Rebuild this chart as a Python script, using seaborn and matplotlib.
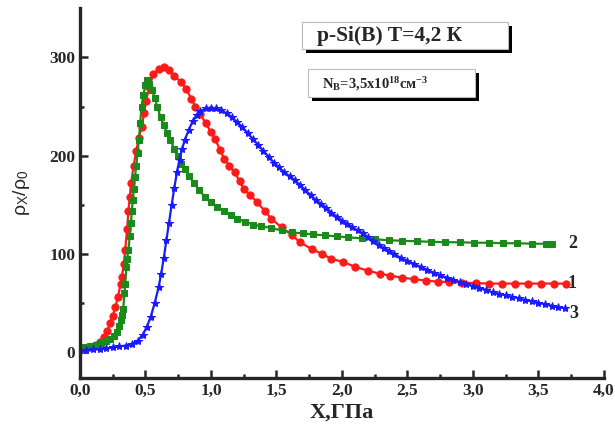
import matplotlib
matplotlib.use("Agg")
import matplotlib.pyplot as plt
import seaborn as sns
import pandas as pd
from matplotlib.patches import Rectangle

# curve 1 (red, circles)
x1 = [0.00, 0.04, 0.08, 0.12, 0.15, 0.18, 0.21, 0.23, 0.25, 0.27, 0.29, 0.31, 0.32, 0.335,
      0.345, 0.36, 0.37, 0.38, 0.39, 0.41, 0.43, 0.45, 0.47, 0.49, 0.505, 0.53, 0.56, 0.60,
      0.64, 0.68, 0.72, 0.77, 0.81, 0.85, 0.88, 0.92, 0.96, 1.00, 1.03, 1.07, 1.10, 1.14,
      1.18, 1.22, 1.25, 1.30, 1.35, 1.41, 1.46, 1.54, 1.62, 1.68, 1.77, 1.85, 1.92, 2.01,
      2.10, 2.20, 2.29, 2.37, 2.46, 2.55, 2.64, 2.73, 2.82, 2.92, 3.02, 3.12, 3.22, 3.32,
      3.42, 3.52, 3.62, 3.71]
y1 = [2, 3, 5, 8, 11, 16, 22, 30, 37, 46, 56, 70, 77, 90,
      104, 125, 144, 158, 172, 190, 205, 218, 229, 243, 256, 270, 283, 288,
      290, 287, 281, 275, 268, 258, 250, 242, 233, 224, 217, 206, 197, 190,
      183, 174, 166, 160, 153, 144, 136, 127, 119, 112, 105, 100, 95, 92,
      87, 83, 80, 78, 76, 74.5, 73, 72, 71.5, 71, 70.5, 70, 70, 70,
      70, 70, 70, 70]

# curve 2 (green, squares)
x2 = [0.00, 0.04, 0.08, 0.12, 0.16, 0.20, 0.23, 0.26, 0.28, 0.30, 0.31, 0.32, 0.33, 0.34,
      0.345, 0.355, 0.36, 0.37, 0.38, 0.39, 0.395, 0.405, 0.41, 0.42, 0.43, 0.44, 0.45, 0.46,
      0.47, 0.485, 0.50, 0.51, 0.53, 0.55, 0.57, 0.59, 0.615, 0.64, 0.665, 0.69, 0.72, 0.745,
      0.77, 0.80, 0.835, 0.87, 0.91, 0.955, 1.00, 1.05, 1.10, 1.15, 1.20, 1.26, 1.32, 1.38,
      1.46, 1.54, 1.62, 1.70, 1.78, 1.87, 1.96, 2.05, 2.15, 2.25, 2.36, 2.46, 2.57, 2.68,
      2.79, 2.90, 3.01, 3.12, 3.23, 3.34, 3.45, 3.56, 3.60]
y2 = [3, 5, 7, 8, 10, 12, 14, 17, 21, 27, 33, 38, 44, 60,
      70, 87, 95, 104, 118, 132, 144, 155, 166, 178, 190, 203, 216, 233,
      250, 262, 272, 277, 273, 267, 259, 250, 239, 231, 223, 216, 207, 200,
      192, 186, 179, 172, 165, 158, 153, 148, 144, 140, 136, 133, 130, 128.5,
      126.5, 124, 122, 121, 120, 119, 118, 117, 116, 115, 114, 113.5, 113, 112.5,
      112, 112, 111.5, 111.5, 111, 111, 110.5, 110.5, 110.5]

# curve 3 (blue, stars)
x3 = [0.00, 0.05, 0.10, 0.15, 0.20, 0.25, 0.30, 0.35, 0.40, 0.44, 0.48, 0.51, 0.54, 0.57,
      0.60, 0.62, 0.64, 0.66, 0.68, 0.70, 0.72, 0.74, 0.76, 0.78, 0.80, 0.83, 0.86, 0.89,
      0.92, 0.96, 1.00, 1.04, 1.08, 1.12, 1.16, 1.20, 1.24, 1.28, 1.32, 1.36, 1.40, 1.44,
      1.48, 1.52, 1.56, 1.60, 1.64, 1.68, 1.72, 1.76, 1.80, 1.84, 1.88, 1.92, 1.96, 2.00,
      2.04, 2.08, 2.12, 2.16, 2.20, 2.24, 2.28, 2.32, 2.36, 2.40, 2.45, 2.50, 2.55, 2.60,
      2.65, 2.70, 2.75, 2.80, 2.85, 2.90, 2.95, 3.00, 3.05, 3.10, 3.15, 3.20, 3.25, 3.30,
      3.35, 3.40, 3.45, 3.50, 3.55, 3.60, 3.65, 3.70]
y3 = [2, 2, 3, 3, 4, 5, 6, 7, 9, 12, 18, 26, 36, 50,
      66, 80, 96, 114, 132, 150, 167, 183, 196, 207, 216, 226, 235, 241,
      245, 248, 249, 248, 246, 243, 239, 234, 229, 223, 217, 211, 205, 199,
      193, 188, 183, 179, 175, 170, 165, 160, 155, 151, 147, 142, 138, 134,
      131, 127, 124, 121, 117, 113, 109, 106, 103, 100, 96, 93, 90, 87,
      84, 81, 78.5, 76, 74, 71.5, 69.5, 67.5, 65.5, 63.5, 61, 59.5, 58, 56.5,
      55, 53, 52, 50.5, 49, 47.5, 46, 45]

curve_labels = ["1", "2", "3"]
label_pos = [(3.76, 70), (3.76, 111), (3.77, 40)]

sns.set_style("ticks")
plt.rcParams["font.family"] = ["Liberation Serif", "DejaVu Serif"]
plt.rcParams["font.weight"] = "bold"
plt.rcParams["mathtext.fontset"] = "custom"
plt.rcParams["mathtext.rm"] = "Liberation Serif:bold"
plt.rcParams["mathtext.it"] = "Liberation Serif:bold"
plt.rcParams["mathtext.bf"] = "Liberation Serif:bold"

fig = plt.figure(figsize=(6.15, 4.30), dpi=100)
ax = fig.add_axes([0.130, 0.121, 0.852, 0.860])

series = [
    (x1, y1, "#ff1a1a", "o", 5.2),
    (x2, y2, "#1a8a1a", "s", 4.6),
    (x3, y3, "#1a1aff", "*", 6),
]
for xs, ys, col, mk, ms in series:
    df = pd.DataFrame({"x": xs, "y": ys})
    sns.lineplot(data=df, x="x", y="y", ax=ax, color=col, marker=mk, markersize=ms,
                 markeredgecolor=col, linewidth=1.6, sort=False, estimator=None)

ax.set_xlim(0, 4.0)
ax.set_ylim(-26, 350)
ax.set_xticks([0, 0.5, 1.0, 1.5, 2.0, 2.5, 3.0, 3.5, 4.0])
ax.set_xticklabels(["0,0", "0,5", "1,0", "1,5", "2,0", "2,5", "3,0", "3,5", "4,0"])
ax.set_xticks([0.25, 0.75, 1.25, 1.75, 2.25, 2.75, 3.25, 3.75], minor=True)
ax.set_yticks([0, 100, 200, 300])
ax.set_yticks([50, 150, 250], minor=True)
ax.tick_params(which="both", direction="in", width=1.8, labelsize=12.5)
ax.tick_params(which="major", length=6)
ax.tick_params(which="minor", length=3)
for lab in ax.get_xticklabels() + ax.get_yticklabels():
    lab.set_fontweight("bold")

sns.despine(ax=ax)
ax.spines["left"].set_linewidth(2.4)
ax.spines["bottom"].set_linewidth(2.4)

ax.set_xlabel("X,ГПа", fontsize=16, fontweight="bold", labelpad=3)
ax.set_ylabel(r"ρ$_\mathregular{X}$/ρ$_\mathregular{0}$", fontsize=14, fontweight="normal",
              family=["Liberation Sans", "DejaVu Sans"], labelpad=12)

for lab, (lx, ly) in zip(curve_labels, label_pos):
    ax.text(lx, ly, lab, fontsize=13, fontweight="bold", ha="center", va="center")

# annotation boxes with black shadow (figure pixel coordinates)
W, H = 615, 430
def shadow_box(x0, y0, x1_, y1_, off=4):
    fig.patches.append(Rectangle(((x0 + off) / W, 1 - (y1_ + off) / H), (x1_ - x0) / W,
                                 (y1_ - y0) / H, transform=fig.transFigure,
                                 facecolor="black", edgecolor="none", zorder=5))
    fig.patches.append(Rectangle((x0 / W, 1 - y1_ / H), (x1_ - x0) / W, (y1_ - y0) / H,
                                 transform=fig.transFigure, facecolor="white",
                                 edgecolor="#bbbbbb", linewidth=0.8, zorder=6))

shadow_box(302, 22, 508, 49)
shadow_box(308, 69, 475, 97)
fig.text(317 / W, 1 - 36 / H, "p-Si(B) T=4,2 К", fontsize=15.5, fontweight="bold",
         ha="left", va="center", zorder=7)
fig.text(322 / W, 1 - 84 / H, r"N$_\mathregular{B}$=3,5x10$^\mathregular{18}$см$^\mathregular{-3}$",
         fontsize=10.5, fontweight="bold", ha="left", va="center", zorder=7)

fig.savefig("out.png", dpi=100)
